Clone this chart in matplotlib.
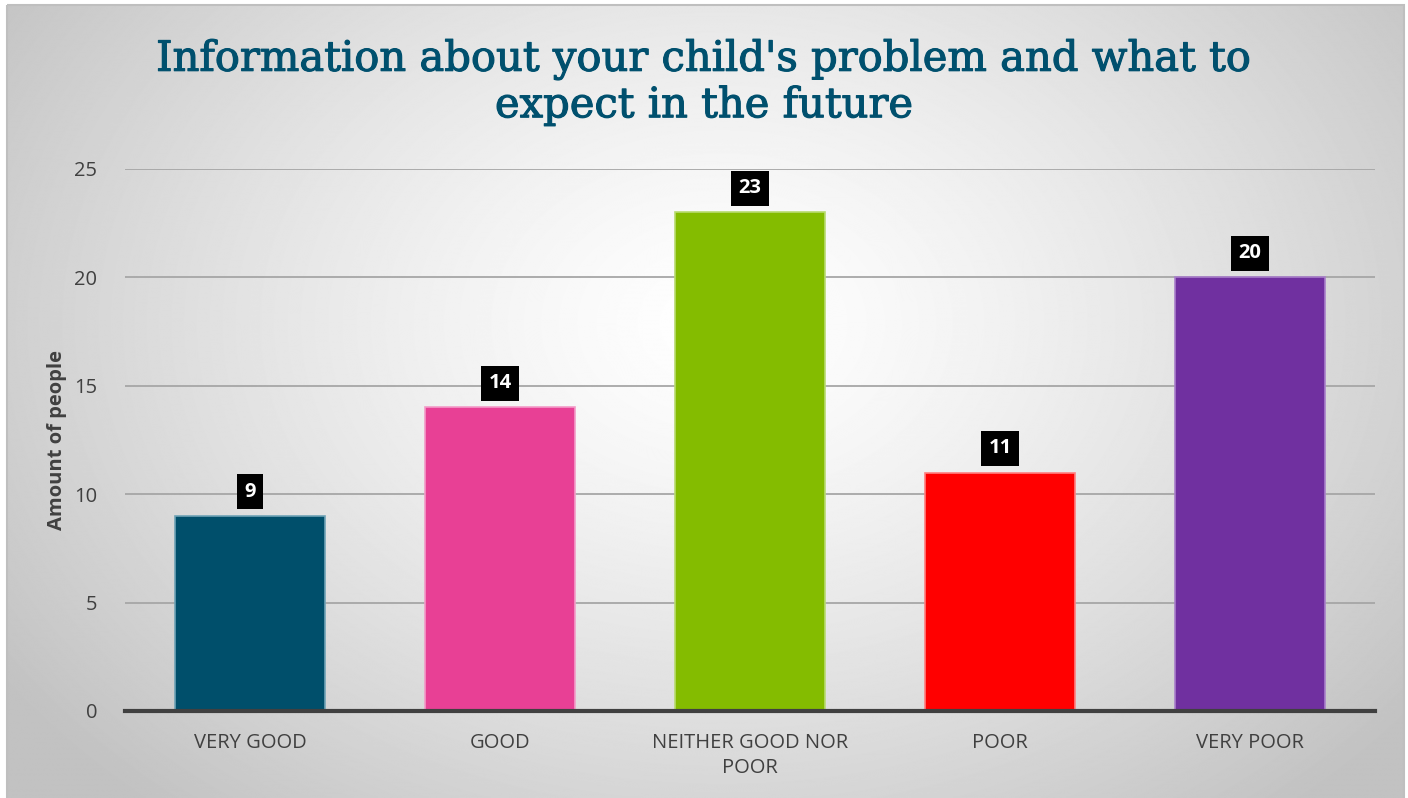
import numpy as np
import matplotlib.pyplot as plt
import matplotlib.patheffects as pe
from matplotlib.patches import Rectangle

# Survey answers
categories = ["VERY GOOD", "GOOD", "NEITHER GOOD NOR\nPOOR", "POOR", "VERY POOR"]
counts = [9, 14, 23, 11, 20]
colors = ["#004F6B", "#E84095", "#84BC00", "#FF0000", "#7030A0"]
edge_colors = ["#6FA3B6", "#F39BC8", "#B8DB70", "#FF8080", "#A97FCB"]
yticks = [0, 5, 10, 15, 20, 25]

W, H = 1408, 798
fig = plt.figure(figsize=(W / 100, H / 100), dpi=100)

# radial gradient panel behind the chart
bg = fig.add_axes([0, 0, 1, 1], zorder=0)
bg.set_xlim(0, W)
bg.set_ylim(H, 0)
bg.axis("off")
xx, yy = np.meshgrid(np.arange(W), np.arange(H))
r = np.sqrt(((xx - 720) / 760) ** 2 + ((yy - 320) / 560) ** 2)
shade = np.clip(1.0 - 0.2 * r ** 1.3, 0.76, 1.0)
bg.imshow(shade, cmap="gray", vmin=0, vmax=1, extent=(7, W - 4, H, 5),
          interpolation="bilinear", aspect="auto")
bg.add_patch(Rectangle((7, 5), W - 11, H, fill=False, edgecolor="#BFBFBF", lw=1.5))

ax = fig.add_axes([125 / W, 1 - 711 / H, 1250 / W, (711 - 169) / H], zorder=1)
ax.patch.set_alpha(0)

x = np.arange(len(categories))
ax.bar(x, counts, width=0.6, color=colors, edgecolor=edge_colors, linewidth=1.2, zorder=3)

for xi, v in zip(x, counts):
    ax.text(xi, v + 0.65, str(v), ha="center", va="bottom", color="white",
            fontsize=14.5, fontweight="bold", family="Open Sans", zorder=4,
            bbox=dict(boxstyle="square,pad=0.38", fc="black", ec="none"))

ax.set_xlim(-0.5, 4.5)
ax.set_ylim(0, 25)
ax.set_yticks(yticks)
ax.set_xticks(x)
ax.set_xticklabels(categories, fontsize=14.5, color="#404040", family="Open Sans",
                   linespacing=1.3)
ax.tick_params(axis="y", labelsize=14.5, labelcolor="#404040", length=0, pad=20)
ax.tick_params(axis="x", length=0, pad=16)
for lab in ax.get_yticklabels():
    lab.set_family("Open Sans")
ax.grid(axis="y", color="#A6A6A6", lw=1.3, zorder=0)
for s in ["top", "right", "left"]:
    ax.spines[s].set_visible(False)
ax.spines["bottom"].set_color("#404040")
ax.spines["bottom"].set_linewidth(3)
ax.spines["bottom"].set_zorder(5)

ax.set_ylabel("Amount of people", fontsize=14.5, fontweight="bold", color="#404040",
              family="Open Sans")
ax.yaxis.set_label_coords((67 - 125) / 1250, 0.5)

fig.text(0.5, 1 - 82 / H, "Information about your child's problem and what to\nexpect in the future",
         ha="center", va="center", fontsize=30, color="#00506E", family="DejaVu Serif",
         linespacing=1.12,
         path_effects=[pe.withStroke(linewidth=0.8, foreground="#00506E")])

fig.savefig("out.png", dpi=100)
